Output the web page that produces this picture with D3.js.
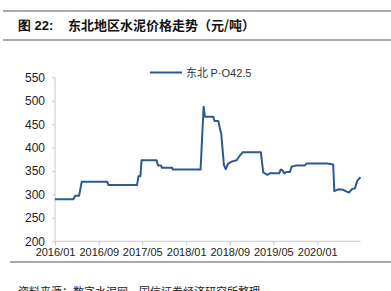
<!DOCTYPE html>
<html>
<head>
<meta charset="utf-8">
<script src="https://cdn.jsdelivr.net/npm/d3@7"></script>
<style>
  body { margin: 0; background: #fff; }
  text { font-family: "Liberation Sans", Arial, sans-serif; }
  .cjk { font-family: "Noto Sans CJK SC", sans-serif; }
</style>
</head>
<body>
<div id="chart"></div>
<script>
// 东北 P·O42.5 价格 (元/吨)
var dates = [
  '2016-01-01', '2016-04-12', '2016-04-23', '2016-05-14', '2016-05-29', '2016-10-18', '2016-10-25',
  '2017-04-02', '2017-04-10', '2017-04-21', '2017-04-27', '2017-07-20', '2017-07-28', '2017-08-13',
  '2017-08-19', '2017-10-14', '2017-10-19', '2018-03-22', '2018-04-08', '2018-04-15', '2018-06-01',
  '2018-06-07', '2018-06-29', '2018-07-08', '2018-07-15', '2018-07-30', '2018-08-09', '2018-08-23',
  '2018-09-11', '2018-10-09', '2018-10-27', '2018-11-11', '2019-02-21', '2019-03-06', '2019-03-29',
  '2019-04-12', '2019-06-03', '2019-06-11', '2019-06-20', '2019-07-01', '2019-07-15', '2019-08-02',
  '2019-08-11', '2019-09-08', '2019-10-24', '2019-11-03', '2020-02-26', '2020-03-30', '2020-04-05',
  '2020-04-27', '2020-05-25', '2020-06-13', '2020-06-26', '2020-07-11', '2020-07-29', '2020-08-11',
  '2020-08-29'
];
var prices = [
  290, 290, 297, 297, 327, 327, 320,
  320, 339, 339, 373, 373, 362, 362,
  357, 357, 353, 353, 487, 466, 466,
  457, 457, 440, 430, 363, 354, 366,
  370, 373, 383, 390, 390, 347, 342,
  345, 345, 353, 352, 345, 348, 348,
  359, 362, 362, 366, 366, 364, 307,
  311, 310, 306, 304, 311, 313, 329,
  337
];
var yTicks = [200, 250, 300, 350, 400, 450, 500, 550];
var xTicks = ['2016-01-01', '2016-09-01', '2017-05-01', '2018-01-01', '2018-09-01', '2019-05-01', '2020-01-01'];
var seriesName = ['东北', 'P·O42.5'];
var title = ['图 22:', '东北地区水泥价格走势（元/吨）'];
var source = '资料来源：数字水泥网，国信证券经济研究所整理';

var width = 391, height = 291;
var plotLeft = 55, plotRight = 360.5, plotTop = 77.3, plotBottom = 241.3;
var parse = d3.timeParse('%Y-%m-%d');
var fmt = d3.timeFormat('%Y/%m');

var data = dates.map(function (d, i) {
  return { date: parse(d), value: prices[i] };
});

var svg = d3.select('#chart')
  .append('svg')
  .attr('width', width)
  .attr('height', height);

var x = d3.scaleTime()
  .domain([parse('2016-01-01'), parse('2020-08-29')])
  .range([plotLeft, plotRight]);
var y = d3.scaleLinear()
  .domain([200, 550])
  .range([plotBottom, plotTop]);

// 标题和边框线
svg.append('line')
  .attr('x1', 3).attr('x2', width).attr('y1', 11).attr('y2', 11)
  .attr('stroke', '#8c8c8c').attr('stroke-width', 1.5);
svg.append('line')
  .attr('x1', 3).attr('x2', width).attr('y1', 40).attr('y2', 40)
  .attr('stroke', '#8c8c8c').attr('stroke-width', 1.5);
svg.append('text')
  .attr('x', 18).attr('y', 30)
  .attr('font-size', 13).attr('font-weight', 'bold')
  .attr('fill', '#111')
  .text(title[0]);
svg.append('text')
  .attr('class', 'cjk')
  .attr('x', 68).attr('y', 30)
  .attr('font-size', 13).attr('font-weight', 'bold')
  .attr('fill', '#111')
  .text(title[1]);

// 坐标轴
var yAxis = svg.append('g')
  .attr('transform', 'translate(' + plotLeft + ',0)')
  .call(d3.axisLeft(y).tickValues(yTicks).tickSize(3).tickPadding(7));
var xAxis = svg.append('g')
  .attr('transform', 'translate(0,' + plotBottom + ')')
  .call(d3.axisBottom(x).tickValues(xTicks.map(parse)).tickFormat(fmt).tickSize(4).tickPadding(3));

[yAxis, xAxis].forEach(function (g) {
  g.select('.domain').attr('stroke', '#c8c8c8');
  g.selectAll('.tick line').attr('stroke', '#c8c8c8');
  g.selectAll('.tick text')
    .attr('fill', '#222')
    .style('font-family', '"Liberation Sans", Arial, sans-serif');
});
yAxis.selectAll('.tick text').attr('font-size', 12);
xAxis.selectAll('.tick text').attr('font-size', 11);
xAxis.select('.domain').attr('d', 'M' + plotLeft + ',0H' + plotRight);
yAxis.select('.domain').attr('d', 'M0,' + plotBottom + 'V' + plotTop);

// 折线
var line = d3.line()
  .x(function (d) { return x(d.date); })
  .y(function (d) { return y(d.value); });
svg.append('path')
  .datum(data)
  .attr('d', line)
  .attr('fill', 'none')
  .attr('stroke', '#2b5a92')
  .attr('stroke-width', 2)
  .attr('stroke-linejoin', 'round');

// 图例
svg.append('line')
  .attr('x1', 150).attr('x2', 182).attr('y1', 72.5).attr('y2', 72.5)
  .attr('stroke', '#2b5a92').attr('stroke-width', 2);
var legendText = svg.append('text')
  .attr('x', 186).attr('y', 76.5)
  .attr('font-size', 11)
  .attr('fill', '#333');
legendText.append('tspan')
  .attr('class', 'cjk')
  .text(seriesName[0] + ' ');
legendText.append('tspan')
  .text(seriesName[1]);

// 资料来源
svg.append('line')
  .attr('x1', 10).attr('x2', width).attr('y1', 262).attr('y2', 262)
  .attr('stroke', '#8c8c8c').attr('stroke-width', 1.5);
svg.append('text')
  .attr('class', 'cjk')
  .attr('x', 18).attr('y', 296)
  .attr('font-size', 11)
  .attr('fill', '#222')
  .text(source);
</script>
</body>
</html>
